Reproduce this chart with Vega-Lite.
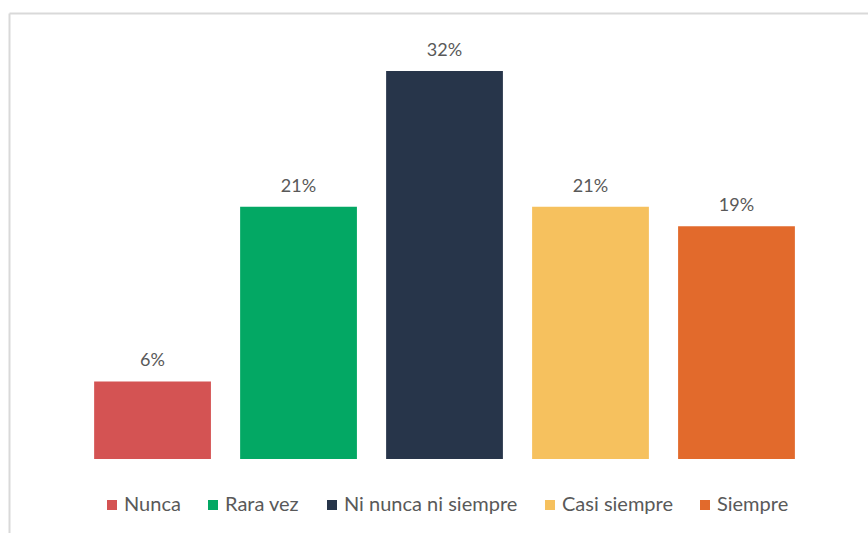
{
  "$schema": "https://vega.github.io/schema/vega-lite/v6.json",
  "width": 859,
  "height": 520,
  "padding": {"left": 9, "top": 13, "right": 0, "bottom": 0},
  "autosize": {"type": "none"},
  "background": "white",
  "config": {
    "view": {"stroke": null},
    "font": "Lato"
  },
  "data": {
    "values": [
      {"categoria": "Nunca", "valor": 0.0645},
      {"categoria": "Rara vez", "valor": 0.2097},
      {"categoria": "Ni nunca ni siempre", "valor": 0.3226},
      {"categoria": "Casi siempre", "valor": 0.2097},
      {"categoria": "Siempre", "valor": 0.1935}
    ]
  },
  "encoding": {
    "x": {
      "field": "categoria",
      "type": "nominal",
      "sort": null,
      "scale": {"paddingInner": 0.2, "paddingOuter": 0.542, "align": 0.538},
      "axis": {
        "orient": "top",
        "title": null,
        "labels": false,
        "ticks": false,
        "domainColor": "#d9d9d9",
        "domainWidth": 2,
        "grid": false
      }
    }
  },
  "layer": [
    {
      "mark": {"type": "bar"},
      "encoding": {
        "y": {
          "field": "valor",
          "type": "quantitative",
          "scale": {"domain": [-0.0615, 0.3708], "nice": false, "zero": false},
          "axis": {
            "title": null,
            "labels": false,
            "ticks": false,
            "grid": false,
            "domainColor": "#d9d9d9",
            "domainWidth": 2
          }
        },
        "y2": {"datum": 0},
        "color": {
          "field": "categoria",
          "type": "nominal",
          "sort": null,
          "scale": {
            "domain": ["Nunca", "Rara vez", "Ni nunca ni siempre", "Casi siempre", "Siempre"],
            "range": ["#d45353", "#03a864", "#27354a", "#f6c15e", "#e26a2c"]
          },
          "legend": {
            "title": null,
            "orient": "none",
            "direction": "horizontal",
            "legendX": 93,
            "legendY": 482,
            "padding": 0,
            "symbolType": "square",
            "symbolSize": 100,
            "symbolStrokeWidth": 0,
            "labelFont": "Lato",
            "labelFontSize": 20,
            "labelColor": "#595959",
            "labelOffset": 2,
            "columnPadding": 22,
            "labelLimit": 300
          }
        }
      }
    },
    {
      "mark": {
        "type": "text",
        "baseline": "alphabetic",
        "dy": -15,
        "fontSize": 18,
        "font": "Lato",
        "color": "#595959"
      },
      "encoding": {
        "y": {"field": "valor", "type": "quantitative"},
        "text": {"field": "valor", "type": "quantitative", "format": ".0%"}
      }
    }
  ]
}
